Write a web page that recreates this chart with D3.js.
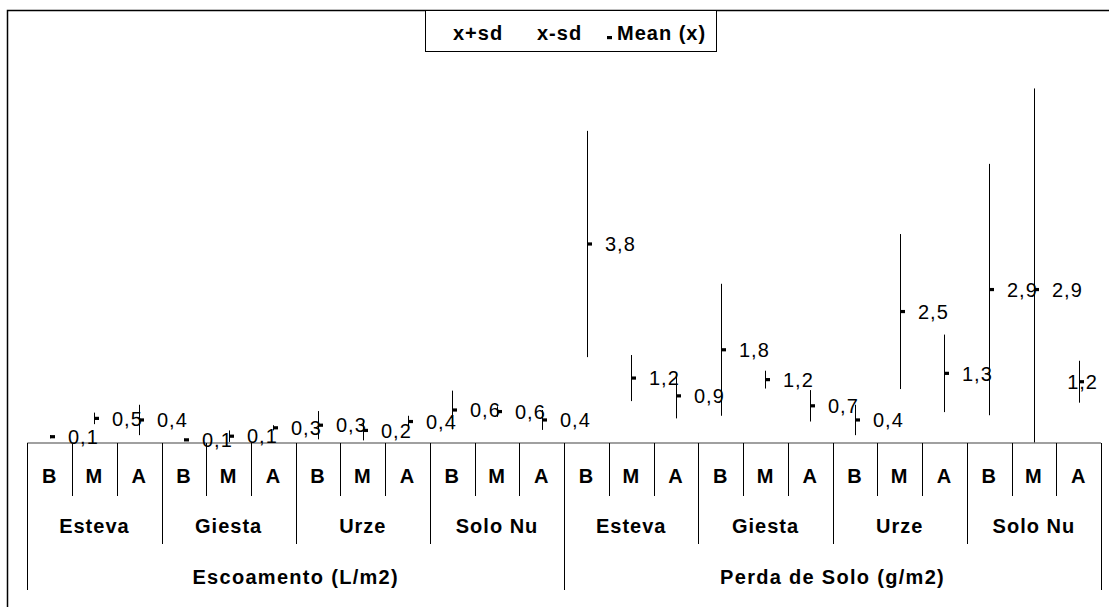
<!DOCTYPE html>
<html><head><meta charset="utf-8">
<script src="https://cdn.jsdelivr.net/npm/d3@7"></script>
<style>body{margin:0;background:#fff}svg{display:block}text{font-family:"Liberation Sans",Arial,sans-serif;fill:#000;letter-spacing:1px}</style>
</head><body>
<svg id="c" width="1109" height="607"></svg>
<script>
const measures = ["Escoamento (L/m2)", "Perda de Solo (g/m2)"];
const covers = ["Esteva", "Giesta", "Urze", "Solo Nu"];
const levels = ["B", "M", "A"];
const means = [0.12, 0.47, 0.44, 0.06, 0.13, 0.29, 0.34, 0.24, 0.41, 0.63, 0.60, 0.44,
               3.80, 1.24, 0.90, 1.78, 1.21, 0.71, 0.44, 2.51, 1.33, 2.93, 2.93, 1.17];
const sds   = [0.03, 0.11, 0.29, 0.02, 0.11, 0.05, 0.27, 0.19, 0.11, 0.37, 0.10, 0.19,
               2.16, 0.44, 0.43, 1.26, 0.17, 0.30, 0.29, 1.48, 0.74, 2.40, 3.84, 0.40];
const legendLabels = ["x+sd", "x-sd", "Mean (x)"];

const cats = [];
measures.forEach((m, mi) => covers.forEach((c, ci) => levels.forEach((l, li) =>
  cats.push({m, c, l, i: cats.length}))));
const data = cats.map((d, i) => ({...d, mean: means[i], hi: means[i] + sds[i], lo: Math.max(0, means[i] - sds[i])}));

const svg = d3.select("#c");
const axisY = 443, x0 = 27.3, x1 = 1101;
const x = d3.scaleBand().domain(d3.range(cats.length)).range([x0, x1]);
const y = d3.scaleLinear().domain([0, 7]).range([axisY, 76.4]);
const fmt = v => d3.format(".1f")(v).replace(".", ",");
const cx = d => Math.round(x(d.i) + x.bandwidth() / 2);

// outer frame
svg.append("rect").attr("x", 7.5).attr("y", 10.5).attr("width", 1300).attr("height", 800)
  .attr("fill", "none").attr("stroke", "#000").attr("stroke-width", 1.5);

// high-low lines
svg.append("g").selectAll("line").data(data).join("line")
  .attr("x1", d => cx(d) + 0.5).attr("x2", d => cx(d) + 0.5)
  .attr("y1", d => y(d.hi)).attr("y2", d => y(d.lo))
  .attr("stroke", "#000").attr("stroke-width", 1);

// axis line
svg.append("line").attr("x1", x0).attr("x2", x1).attr("y1", axisY).attr("y2", axisY)
  .attr("stroke", "#808080").attr("stroke-width", 1.6);

// mean markers
svg.append("g").selectAll("rect").data(data).join("rect")
  .attr("x", d => cx(d)).attr("y", d => y(d.mean) - 1.6)
  .attr("width", 5).attr("height", 3.2).attr("fill", "#000");

// data labels
svg.append("g").selectAll("text").data(data).join("text")
  .attr("x", d => cx(d) + 18)
  .attr("y", d => y(d.mean)).attr("dy", "0.36em")
  .style("font-size", "20px").text(d => fmt(d.mean))
  .each(function(d) {
    const w = this.getComputedTextLength();
    const sx = cx(d) + 18;
    if (sx + w > 1098) d3.select(this).attr("x", 1098 - w);
  });

// multi-level category axis
const tickG = svg.append("g");
d3.range(cats.length + 1).forEach(k => {
  const px = k === cats.length ? x1 : x(k);
  const bottom = k % 12 === 0 ? 590 : (k % 3 === 0 ? 544 : 496);
  tickG.append("line").attr("x1", Math.round(px) + 0.5).attr("x2", Math.round(px) + 0.5)
    .attr("y1", axisY).attr("y2", bottom).attr("stroke", "#000").attr("stroke-width", 1);
});
const bw = x.bandwidth();
tickG.selectAll("text.l").data(cats).join("text").attr("class", "l")
  .attr("x", d => x(d.i) + bw / 2).attr("y", 476).attr("dy", "0.36em")
  .attr("text-anchor", "middle").style("font-size", "20px").style("font-weight", "bold").text(d => d.l);
const groupsArr = cats.filter(d => d.l === levels[0]);
tickG.selectAll("text.g").data(groupsArr).join("text").attr("class", "g")
  .attr("x", d => x(d.i) + bw * 1.5).attr("y", 526).attr("dy", "0.36em")
  .attr("text-anchor", "middle").style("font-size", "20px").style("font-weight", "bold").text(d => d.c);
const measArr = cats.filter(d => d.l === levels[0] && d.c === covers[0]);
tickG.selectAll("text.m").data(measArr).join("text").attr("class", "m")
  .attr("x", d => x(d.i) + bw * 6).attr("y", 577).attr("dy", "0.36em")
  .attr("text-anchor", "middle").style("font-size", "20px").style("font-weight", "bold")
  .style("letter-spacing", "1.3px").text(d => d.m);

// legend
const lg = svg.append("g");
lg.append("rect").attr("x", 425.5).attr("y", 10.5).attr("width", 291).attr("height", 41)
  .attr("fill", "#fff").attr("stroke", "#000").attr("stroke-width", 1);
const lx = [453, 537, 617];
legendLabels.forEach((t, i) => {
  lg.append("text").attr("x", lx[i]).attr("y", 33).attr("dy", "0.36em")
    .style("font-size", "20px").style("font-weight", "bold").text(t);
});
lg.append("rect").attr("x", 607).attr("y", 36).attr("width", 5).attr("height", 3.2).attr("fill", "#000");
</script>
</body></html>
